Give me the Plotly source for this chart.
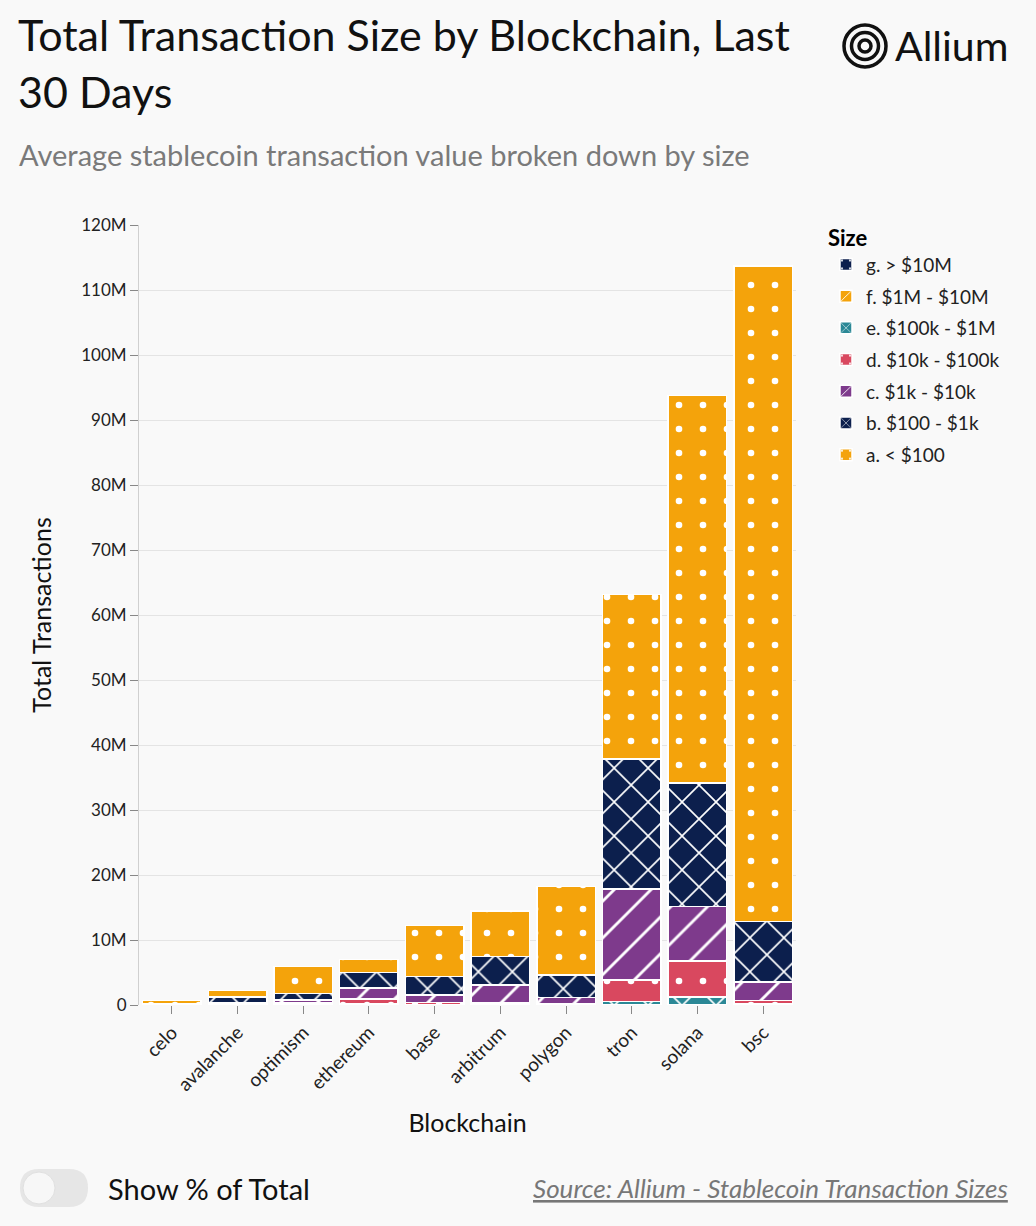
import plotly.graph_objects as go

chains = ["celo", "avalanche", "optimism", "ethereum", "base", "arbitrum", "polygon", "tron", "solana", "bsc"]

# values in millions of transactions
g_gt10m   = [0.0, 0.0, 0.0, 0.0, 0.0, 0.0, 0.0, 0.0, 0.0, 0.0]
f_1m_10m  = [0.0, 0.0, 0.0, 0.0, 0.0, 0.0, 0.0, 0.02, 0.05, 0.02]
e_100k_1m = [0.0, 0.02, 0.05, 0.2, 0.05, 0.05, 0.05, 0.5, 1.2, 0.1]
d_10k_100k = [0.02, 0.1, 0.25, 0.7, 0.3, 0.25, 0.2, 3.3, 5.5, 0.6]
c_1k_10k  = [0.08, 0.3, 0.5, 1.7, 1.2, 2.8, 0.9, 14.0, 8.4, 2.8]
b_100_1k  = [0.15, 0.8, 1.0, 2.4, 2.8, 4.4, 3.5, 20.0, 19.0, 9.3]
a_lt100   = [0.45, 1.0, 4.1, 2.0, 7.9, 7.0, 13.6, 25.3, 59.6, 100.9]

series = [
    ("g. > $10M", g_gt10m, "#0c1f4d", "."),
    ("f. $1M - $10M", f_1m_10m, "#f4a30b", "/"),
    ("e. $100k - $1M", e_100k_1m, "#2b8896", "x"),
    ("d. $10k - $100k", d_10k_100k, "#d9485f", "."),
    ("c. $1k - $10k", c_1k_10k, "#7e3a8c", "/"),
    ("b. $100 - $1k", b_100_1k, "#0c1f4d", "x"),
    ("a. < $100", a_lt100, "#f4a30b", "."),
]

tick_vals = [0, 10, 20, 30, 40, 50, 60, 70, 80, 90, 100, 110, 120]
tick_text = ["0", "10M", "20M", "30M", "40M", "50M", "60M", "70M", "80M", "90M", "100M", "110M", "120M"]

FONT = "Lato"
W, H = 1036, 1226
L, R, T, B = 139, 240, 225, 221
PW, PH = W - L - R, H - T - B

def px(x):
    return (x - L) / PW

def py(y):
    return (H - B - y) / PH

fig = go.Figure()
for name, vals, color, shape in series:
    if shape == ".":
        pat = dict(shape=".", size=24, solidity=0.06)
    elif shape == "x":
        pat = dict(shape="x", size=24, solidity=0.13)
    else:
        pat = dict(shape="/", size=26, solidity=0.11)
    pat.update(fgcolor="white", bgcolor=color, fgopacity=1)
    fig.add_trace(go.Bar(
        x=chains, y=[v * 1e6 for v in vals], name=name, legendgroup=name,
        marker=dict(color=color, line=dict(color="white", width=1.5), pattern=pat),
    ))

fig.update_layout(
    width=W, height=H,
    margin=dict(l=L, r=R, t=T, b=B),
    barmode="stack", bargap=0.11,
    paper_bgcolor="#f9f9f9", plot_bgcolor="#f9f9f9",
    font=dict(family=FONT, color="#111111", size=17),
    showlegend=True,
    legend=dict(
        title=dict(text="<b>Size</b>", font=dict(size=22, family=FONT, color="#000")),
        traceorder="grouped", x=px(826), y=py(217), xanchor="left", yanchor="top",
        font=dict(size=19, family=FONT, color="#222"), tracegroupgap=4,
        bgcolor="rgba(0,0,0,0)",
    ),
    xaxis=dict(
        title=dict(text="Blockchain", font=dict(size=25, family=FONT, color="#111"), standoff=20),
        tickangle=-45, ticks="outside", ticklen=8, tickcolor="#888",
        tickfont=dict(size=19, family=FONT, color="#222"),
        showline=False, showgrid=False,
    ),
    yaxis=dict(
        title=dict(text="Total Transactions", font=dict(size=25, family=FONT, color="#111"), standoff=22),
        range=[0, 120e6], tickvals=[v * 1e6 for v in tick_vals], ticktext=tick_text,
        ticks="outside", ticklen=8, tickcolor="#888",
        tickfont=dict(size=17, family=FONT, color="#222"),
        showline=True, linecolor="#d0d0d0", linewidth=1,
        gridcolor="#e4e4e4", gridwidth=1, zeroline=False,
    ),
)

annotations = [
    dict(text="Total Transaction Size by Blockchain, Last", x=px(16), y=py(7), xanchor="left", yanchor="top",
         font=dict(size=43, family=FONT, color="#111")),
    dict(text="30 Days", x=px(16), y=py(64), xanchor="left", yanchor="top",
         font=dict(size=43, family=FONT, color="#111")),
    dict(text="Average stablecoin transaction value broken down by size", x=px(17), y=py(135),
         xanchor="left", yanchor="top", font=dict(size=29, family=FONT, color="#7a7a7a")),
    dict(text="Allium", x=px(893), y=py(46), xanchor="left", yanchor="middle",
         font=dict(size=41, family=FONT, color="#111")),
    dict(text="Show % of Total", x=px(106), y=py(1188), xanchor="left", yanchor="middle",
         font=dict(size=29, family=FONT, color="#111")),
    dict(text="<i><u>Source: Allium - Stablecoin Transaction Sizes</u></i>", x=px(1010), y=py(1188),
         xanchor="right", yanchor="middle", font=dict(size=26, family=FONT, color="#777")),
]
for a in annotations:
    a.update(xref="paper", yref="paper", showarrow=False)
fig.update_layout(annotations=annotations)

shapes = []
# logo concentric circles
cx, cy = 865, 46
for r, w in [(21, 3.5), (13.5, 3.5), (6, 3.5)]:
    shapes.append(dict(type="circle", xref="paper", yref="paper",
                       x0=px(cx - r), x1=px(cx + r), y0=py(cy + r), y1=py(cy - r),
                       line=dict(color="#111", width=w)))
# toggle switch
x0, x1, y0, y1 = 20, 88, 1169, 1207
rr = (y1 - y0) / 2
path = (f"M {px(x0 + rr)} {py(y0)} L {px(x1 - rr)} {py(y0)} "
        f"Q {px(x1)} {py(y0)} {px(x1)} {py(y0 + rr)} Q {px(x1)} {py(y1)} {px(x1 - rr)} {py(y1)} "
        f"L {px(x0 + rr)} {py(y1)} Q {px(x0)} {py(y1)} {px(x0)} {py(y0 + rr)} "
        f"Q {px(x0)} {py(y0)} {px(x0 + rr)} {py(y0)} Z")
shapes.append(dict(type="path", xref="paper", yref="paper", path=path,
                   fillcolor="#e6e6e6", line=dict(width=0)))
shapes.append(dict(type="circle", xref="paper", yref="paper",
                   x0=px(23), x1=px(55), y0=py(1204), y1=py(1172),
                   fillcolor="#f7f7f7", line=dict(color="#e0e0e0", width=1)))
fig.update_layout(shapes=shapes)

fig.write_html(
    "out.html",
    config={"displayModeBar": False},
    post_script="document.body.style.margin='0';document.body.style.background='#f9f9f9';",
)
